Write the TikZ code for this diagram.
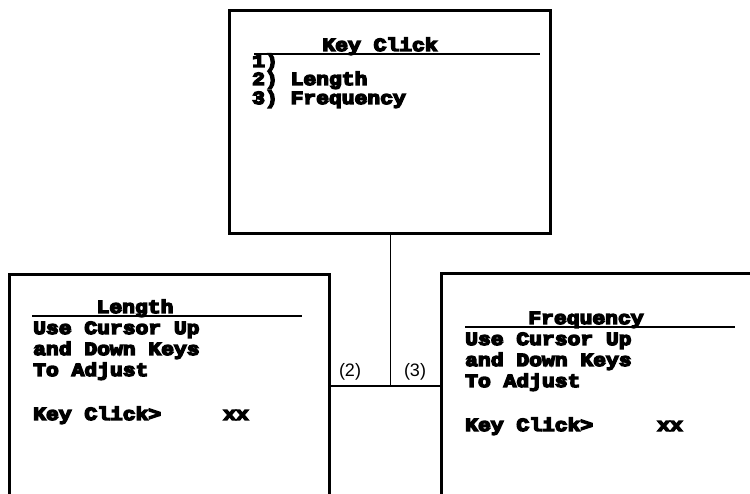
\documentclass[tikz,border=0pt]{standalone}
\usepackage{fontspec}
\newfontfamily\scr{Liberation Mono Bold}[FakeBold=8, FakeStretch=1.153]
\newfontfamily\lblfont{Liberation Sans}
\tikzset{
  screen/.style={draw, line width=3pt, rectangle, inner sep=0pt, outer sep=0pt, anchor=north west},
  txt/.style={anchor=base west, inner sep=0pt, text height=12pt, text depth=3pt, font=\scr\fontsize{18.5}{20}\selectfont},
  ttl/.style={anchor=base, inner sep=0pt, text height=12pt, text depth=1pt, font=\scr\fontsize{18.5}{20}\selectfont},
  uline/.style={line width=2pt},
  link/.style={line width=1.5pt},
  lbl/.style={inner sep=0pt, font=\lblfont\fontsize{18}{20}\selectfont}
}
\begin{document}
\begin{tikzpicture}[x=1pt,y=-1pt]
\useasboundingbox (0,0) rectangle (750,494);
% screens
\node[screen, minimum width=321pt, minimum height=223pt] (top) at (229.5,10.5) {};
\node[screen, minimum width=320pt, minimum height=260pt] (left) at (9.5,274.5) {};
\node[screen, minimum width=340pt, minimum height=260pt] (right) at (441.5,273.5) {};
% top screen text
\node[ttl] (t0) at (380,51) {Key Click};
\draw[uline] (254,54) coordinate (tu1) -- (540,54) coordinate (tu2);
\node[txt] (t1) at (252,67) {1)};
\node[txt] (t2) at (252,85) {2) Length};
\node[txt] (t3) at (252,104) {3) Frequency};
% left screen text
\node[ttl] (l0) at (135,313) {Length};
\draw[uline] (32,316) coordinate (lu1) -- (302,316) coordinate (lu2);
\node[txt] (l1) at (33,334) {Use Cursor Up};
\node[txt] (l2) at (33,355) {and Down Keys};
\node[txt] (l3) at (33,376) {To Adjust};
\node[txt] (l4) at (33,420) {Key Click>};
\node[txt] (l5) at (223,420) {xx};
% right screen text
\node[ttl] (r0) at (586,324) {Frequency};
\draw[uline] (465,327) coordinate (ru1) -- (735,327) coordinate (ru2);
\node[txt] (r1) at (465,345) {Use Cursor Up};
\node[txt] (r2) at (465,366) {and Down Keys};
\node[txt] (r3) at (465,387) {To Adjust};
\node[txt] (r4) at (465,431) {Key Click>};
\node[txt] (r5) at (657,431) {xx};
% connectors
\coordinate (J) at (390.5,386);
\draw[link] (top.south -| J) -- (J);
\draw[link] (left.east |- J) -- (right.west |- J);
\node[lbl] (c2) at (350,372) {(2)};
\node[lbl] (c3) at (415,372) {(3)};
\end{tikzpicture}
\end{document}
